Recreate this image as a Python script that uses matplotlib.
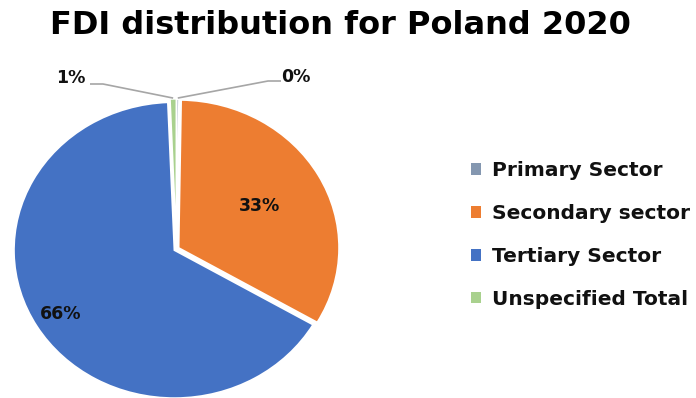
import matplotlib
matplotlib.use("Agg")
import matplotlib.pyplot as plt
import numpy as np

# ---- data ----
title = "FDI distribution for Poland 2020"
categories = ["Primary Sector", "Secondary sector", "Tertiary Sector", "Unspecified Total"]
shares = [0.25, 33.15, 65.95, 0.65]
colors = ["#8497B0", "#ED7D31", "#4472C4", "#A9D18E"]

plt.rcParams['font.family'] = ['DejaVu Sans']

W, H = 696, 398
fig = plt.figure(figsize=(W / 100, H / 100), dpi=100)
ax = fig.add_axes([0, 0, 1, 1])

# pixel layout of the (elliptical) pie
cx, cy, rx, ry = 176.5, 249.0, 160.5, 148.0
def X(px):
    return (px - cx) / rx
def Y(py):
    return (cy - py) / ry

expl = 0.015
wedges, _ = ax.pie(shares, colors=colors, startangle=90, counterclock=False,
                   explode=[expl] * len(shares),
                   wedgeprops=dict(edgecolor="white", linewidth=1.3))
for w in wedges:
    w.set_clip_on(False)
ax.set_aspect('auto')
ax.set_xlim(X(0), X(W))
ax.set_ylim(Y(H), Y(0))
ax.axis('off')

def fmt(v):
    return "%d%%" % int(np.floor(v + 0.5))

def mid(w):
    return np.deg2rad((w.theta1 + w.theta2) / 2)

# inner labels
inner = {1: 0.58, 2: 0.83}
for i, d in inner.items():
    a = mid(wedges[i])
    ax.text((d + expl) * np.cos(a), (d + expl) * np.sin(a), fmt(shares[i]),
            ha='center', va='center', fontsize=12.5, fontweight='bold', color='#111111')

# outer labels with leader lines
outer = {0: dict(text=(296, 77), elbow=(268, 81), end=(281, 81)),
         3: dict(text=(71, 77.5), elbow=(103, 84), end=(90, 84))}
for i, o in outer.items():
    a = mid(wedges[i])
    r = 1.0 + expl + 0.005
    px0, py0 = r * np.cos(a), r * np.sin(a)
    ax.plot([px0, X(o['elbow'][0]), X(o['end'][0])],
            [py0, Y(o['elbow'][1]), Y(o['end'][1])],
            color="#A6A6A6", lw=1.2, solid_capstyle='butt', clip_on=False)
    ax.text(X(o['text'][0]), Y(o['text'][1]), fmt(shares[i]),
            ha='center', va='center', fontsize=12.5, fontweight='bold', color='#111111')

fig.text(340 / W, 1 - 26 / H, title, ha='center', va='center',
         fontsize=23, fontweight='bold', color='#000000')

leg = fig.legend(wedges, categories, loc='upper left',
                 bbox_to_anchor=(471 / W, 1 - 161 / H), frameon=False,
                 handlelength=0.5, handleheight=0.5, handletextpad=0.55,
                 labelspacing=1.19, borderpad=0, borderaxespad=0,
                 prop=dict(size=14.5, weight='bold'))
for t in leg.get_texts():
    t.set_color('#111111')
for h in leg.legend_handles:
    h.set_edgecolor('none')

fig.savefig("out.png", dpi=100)
